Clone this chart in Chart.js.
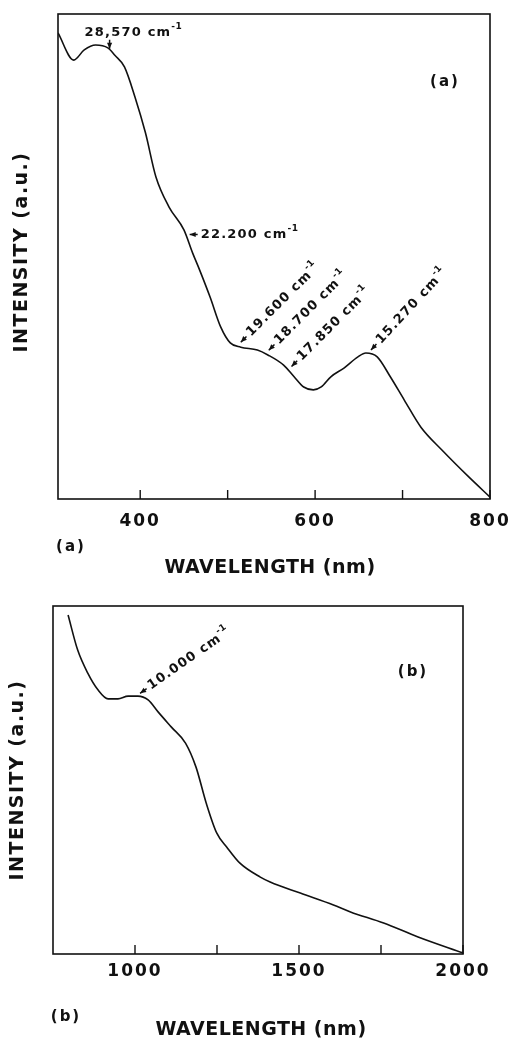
<!DOCTYPE html>
<html>
<head>
<meta charset="utf-8">
<script src="https://cdn.jsdelivr.net/npm/chart.js@4"></script>
<style>
  html, body { margin: 0; padding: 0; background: #fff; overflow: hidden; }
  #wrap { position: relative; width: 513px; height: 1038px; }
  canvas { position: absolute; left: 0; }
</style>
</head>
<body>
<div id="wrap">
  <canvas id="chartA" width="513" height="590" style="top:0"></canvas>
  <canvas id="chartB" width="513" height="448" style="top:590px"></canvas>
</div>
<script>
// (a) visible range
const waveA = [306, 324, 336, 349, 363, 371, 382, 394, 406, 418, 433, 450, 460, 468, 480, 492,
  503, 515, 534, 546, 564, 576, 587, 598, 607, 618, 633, 649, 658, 671, 686, 702, 721, 745, 776, 800];
const intA = [96.1, 90.5, 92.6, 93.6, 93.0, 91.5, 89.1, 82.9, 75.5, 66.4, 60.2, 55.5, 50.7, 47.2, 41.6, 35.5,
  32.2, 31.3, 30.7, 29.7, 27.6, 25.2, 23.1, 22.5, 23.1, 25.2, 27.0, 29.3, 30.1, 29.3, 25.2, 20.4, 14.8, 10.1, 4.5, 0.4];
const ticksA = [400, 500, 600, 700, 800];
const tickLabelsA = ['400', '', '600', '', '800'];
const bandsA = [365, 452, 511, 543, 569, 660];
const bandLabelsA = ['28,570', '22.200', '19.600', '18.700', '17.850', '15.270'];

// (b) near infrared
const waveB = [796, 825, 856, 887, 918, 948, 979, 1009, 1040, 1071, 1111, 1154, 1186, 1217, 1249,
  1280, 1320, 1382, 1412, 1504, 1605, 1657, 1758, 1863, 2000];
const intB = [97.4, 87.4, 80.7, 75.9, 73.3, 73.3, 74.1, 74.1, 73.0, 69.5, 65.2, 60.6, 53.7, 43.4, 34.8,
  30.7, 26.1, 22.1, 20.7, 17.5, 14.1, 12.1, 8.9, 4.9, 0.3];
const ticksB = [1000, 1250, 1500, 1750, 2000];
const tickLabelsB = ['1000', '', '1500', '', '2000'];
const bandsB = [1003];
const bandLabelsB = ['10.000'];

const INK = '#111';
const FONT = '"DejaVu Sans", sans-serif';

// value of the curve at x, used only to place the arrows
function curveAt(xs, ys, x) {
  for (let i = 1; i < xs.length; i++) {
    if (x <= xs[i]) {
      const t = (x - xs[i - 1]) / (xs[i] - xs[i - 1]);
      return ys[i - 1] + t * (ys[i] - ys[i - 1]);
    }
  }
  return ys[ys.length - 1];
}

function drawArrow(ctx, x, y, ang, gap, len) {
  const c = Math.cos(ang), s = Math.sin(ang);
  const tx = x + c * gap, ty = y + s * gap;
  const ex = x + c * (gap + len), ey = y + s * (gap + len);
  ctx.lineWidth = 1.5;
  ctx.beginPath();
  ctx.moveTo(tx, ty);
  ctx.lineTo(ex, ey);
  ctx.stroke();
  const hl = 6, hw = 2.6;
  ctx.beginPath();
  ctx.moveTo(tx, ty);
  ctx.lineTo(tx + c * hl - s * hw, ty + s * hl + c * hw);
  ctx.lineTo(tx + c * hl + s * hw, ty + s * hl - c * hw);
  ctx.closePath();
  ctx.fill();
}

function drawWavenumber(ctx, x, y, label) {
  ctx.textAlign = 'left';
  ctx.textBaseline = 'middle';
  ctx.font = 'bold 13px ' + FONT;
  ctx.letterSpacing = '1.2px';
  const main = label + ' cm';
  ctx.fillText(main, x, y);
  const w = ctx.measureText(main).width;
  ctx.font = 'bold 9px ' + FONT;
  ctx.letterSpacing = '0.5px';
  ctx.fillText('-1', x + w, y - 6);
}

const framePlugin = {
  id: 'frame',
  beforeDraw(chart) {
    chart.ctx.letterSpacing = '2px';
  },
  afterDraw(chart) {
    const cfg = chart.options.plugins.frame;
    const ctx = chart.ctx;
    const area = chart.chartArea;
    const xs = chart.scales.x, ys = chart.scales.y;
    ctx.save();
    ctx.letterSpacing = '0px';
    ctx.strokeStyle = INK;
    ctx.fillStyle = INK;

    // box
    ctx.lineWidth = 1.6;
    ctx.strokeRect(area.left, area.top, area.right - area.left, area.bottom - area.top);

    // inward tick marks
    ctx.lineWidth = 1.4;
    xs.ticks.forEach(t => {
      const px = xs.getPixelForValue(t.value);
      ctx.beginPath();
      ctx.moveTo(px, area.bottom);
      ctx.lineTo(px, area.bottom - 9);
      ctx.stroke();
    });

    // band arrows and labels
    cfg.bands.forEach((b, i) => {
      const st = cfg.styles[i];
      const px = xs.getPixelForValue(b);
      const py = ys.getPixelForValue(curveAt(cfg.xs, cfg.ys, b));
      const ang = st.ang * Math.PI / 180;
      drawArrow(ctx, px, py, ang, st.gap, st.len);
      ctx.save();
      if (st.above) {
        drawWavenumber(ctx, px + st.dx, py + st.dy, cfg.bandLabels[i]);
      } else {
        const d = st.gap + st.len + 3;
        ctx.translate(px + Math.cos(ang) * d, py + Math.sin(ang) * d);
        ctx.rotate(ang);
        drawWavenumber(ctx, 0, 0, cfg.bandLabels[i]);
      }
      ctx.restore();
    });

    // axis titles and panel labels
    ctx.textAlign = 'center';
    ctx.textBaseline = 'middle';
    ctx.save();
    ctx.translate(cfg.yTitle[0], cfg.yTitle[1]);
    ctx.rotate(-Math.PI / 2);
    ctx.font = 'bold 19px ' + FONT;
    ctx.letterSpacing = '1.5px';
    ctx.fillText('INTENSITY (a.u.)', 0, 0);
    ctx.restore();

    ctx.font = 'bold 19px ' + FONT;
    ctx.letterSpacing = '0.5px';
    ctx.fillText('WAVELENGTH (nm)', cfg.xTitle[0], cfg.xTitle[1]);

    ctx.font = 'bold 15px ' + FONT;
    ctx.letterSpacing = '2px';
    ctx.fillText(cfg.panel, cfg.panelOut[0], cfg.panelOut[1]);
    ctx.fillText(cfg.panel, cfg.panelIn[0], cfg.panelIn[1]);
    ctx.restore();
  }
};

function makeChart(id, xsData, ysData, cfg) {
  return new Chart(document.getElementById(id), {
    type: 'line',
    data: {
      datasets: [{
        data: xsData.map((x, i) => ({ x: x, y: ysData[i] })),
        borderColor: INK,
        borderWidth: 1.6,
        pointRadius: 0,
        cubicInterpolationMode: 'monotone',
        fill: false
      }]
    },
    options: {
      responsive: false,
      animation: false,
      events: [],
      layout: { padding: cfg.padding },
      scales: {
        x: {
          type: 'linear',
          min: cfg.min,
          max: cfg.max,
          afterBuildTicks: s => { s.ticks = cfg.ticks.map(v => ({ value: v })); },
          afterFit: s => {
            s.height = cfg.axisHeight;
            s.paddingLeft = 0;
            s.paddingRight = 0;
          },
          ticks: {
            autoSkip: false,
            maxRotation: 0,
            padding: cfg.tickPad,
            color: INK,
            font: { family: FONT, size: 17, weight: 'bold' },
            callback: v => cfg.tickLabels[cfg.ticks.indexOf(v)]
          },
          grid: { display: false, drawTicks: false },
          border: { display: false }
        },
        y: { type: 'linear', display: false, min: 0, max: 100 }
      },
      plugins: {
        legend: { display: false },
        tooltip: { enabled: false },
        frame: Object.assign({ xs: xsData, ys: ysData }, cfg)
      }
    },
    plugins: [framePlugin]
  });
}

makeChart('chartA', waveA, intA, {
  min: 306, max: 800,
  ticks: ticksA, tickLabels: tickLabelsA,
  bands: bandsA, bandLabels: bandLabelsA,
  styles: [
    { ang: -90, gap: 1, len: 9, above: true, dx: -25, dy: -17 },
    { ang: 0, gap: 4, len: 8 },
    { ang: -45, gap: 5, len: 8 },
    { ang: -45, gap: 5, len: 8 },
    { ang: -45, gap: 5, len: 8 },
    { ang: -47, gap: 5, len: 8 }
  ],
  padding: { left: 58, right: 23, top: 14, bottom: 0 },
  axisHeight: 91, tickPad: 12,
  yTitle: [22, 252], xTitle: [270, 568],
  panel: '(a)', panelOut: [71, 547], panelIn: [445, 82]
});

makeChart('chartB', waveB, intB, {
  min: 750, max: 2000,
  ticks: ticksB, tickLabels: tickLabelsB,
  bands: bandsB, bandLabels: bandLabelsB,
  styles: [
    { ang: -35, gap: 5, len: 8 }
  ],
  padding: { left: 53, right: 50, top: 16, bottom: 0 },
  axisHeight: 84, tickPad: 7,
  yTitle: [18, 190], xTitle: [261, 440],
  panel: '(b)', panelOut: [66, 427], panelIn: [413, 82]
});
</script>
</body>
</html>
